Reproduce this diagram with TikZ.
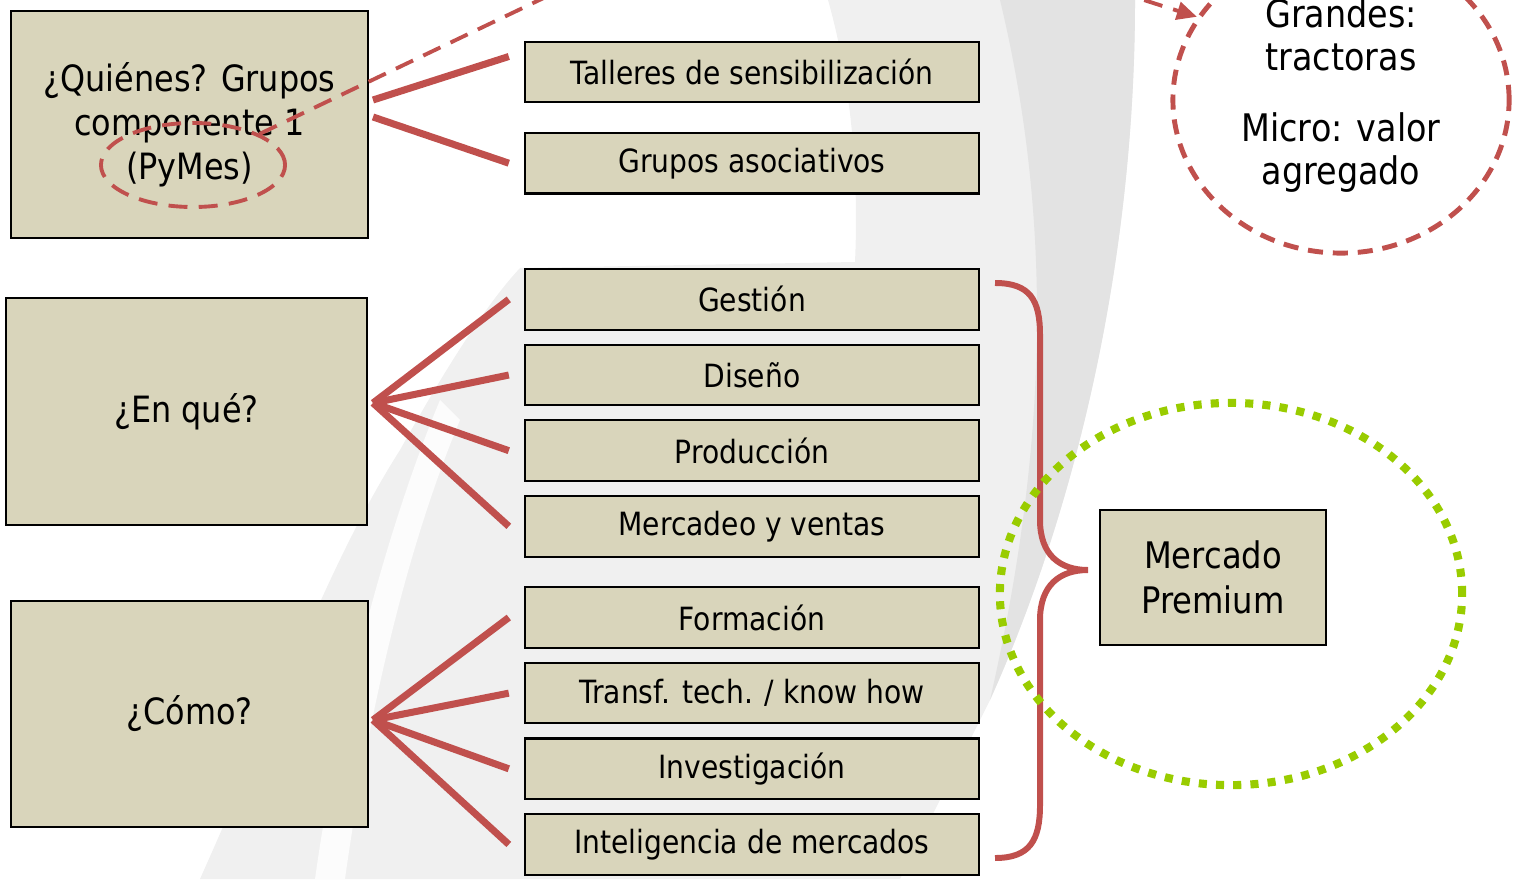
\documentclass[tikz,border=0pt]{standalone}
\usepackage{fontspec}
\setmainfont{DejaVu Sans}[FakeStretch=0.88]
\usetikzlibrary{shapes.geometric}
\usetikzlibrary{arrows.meta}
\definecolor{boxtan}{RGB}{217,213,187}
\definecolor{linkred}{RGB}{192,80,77}
\definecolor{dotgreen}{RGB}{153,204,0}
\tikzstyle{item} = [draw=black, line width=0.6pt, fill=boxtan, minimum width=4.54cm, minimum height=0.605cm, inner sep=0pt, text centered, font=\fontsize{9.1}{11}\selectfont]
\tikzstyle{question} = [draw=black, line width=0.6pt, fill=boxtan, minimum width=3.57cm, minimum height=2.27cm, inner sep=0pt, align=center, font=\fontsize{10.3}{12.5}\selectfont]
\tikzstyle{link} = [draw=linkred, line width=2pt]
\tikzstyle{redring} = [ellipse, draw=linkred, inner sep=0pt]
\tikzstyle{greenring} = [ellipse, draw=dotgreen, line width=2.3pt, dash pattern=on 2.3pt off 2.6pt, inner sep=0pt]

\begin{document}
\begin{tikzpicture}[x=0.01cm, y=-0.01cm]
        \path[use as bounding box, clip] (0,0) rectangle (1519,879);

        \fill[black!6] (828,0) -- (1135,0) .. controls (1135,250) and (1080,500) .. (990,700)
            .. controls (950,780) and (920,840) .. (900,879) -- (200,879) .. controls (280,700) and (330,560) .. (400,450)
            .. controls (450,360) and (490,300) .. (520,268) -- (855,262) .. controls (860,150) and (845,60) .. (828,0) -- cycle;
        \fill[black!11] (1000,0) -- (1135,0) .. controls (1135,250) and (1080,500) .. (990,700)
            .. controls (1040,480) and (1060,250) .. (1000,0) -- cycle;
        \fill[white, opacity=0.8] (440,400) .. controls (390,520) and (340,700) .. (315,879) -- (345,879)
            .. controls (370,700) and (410,540) .. (460,420) -- cycle;

        \node[question] (quien) at (189.5,124.5) {¿Quiénes? Grupos\\componente 1\\(PyMes)};
        \node[question, minimum width=3.61cm] (enque) at (186.5,411.5) {¿En qué?};
        \node[question, minimum height=2.26cm] (como) at (189.5,714) {¿Cómo?};

        \matrix (col) [row sep=0.13cm, inner sep=0pt, anchor=north] at (752,40) {
            \node[item] (talleres) {Talleres de sensibilización}; \\[0.155cm]
            \node[item] (grupos) {Grupos asociativos}; \\[0.605cm]
            \node[item] (gest) {Gestión}; \\
            \node[item] (dise) {Diseño}; \\
            \node[item] (prod) {Producción}; \\
            \node[item] (merc) {Mercadeo y ventas}; \\[0.155cm]
            \node[item] (form) {Formación}; \\
            \node[item] (transf) {Transf. tech. / know how}; \\
            \node[item] (inv) {Investigación}; \\
            \node[item] (intel) {Inteligencia de mercados}; \\
        };

        \coordinate (quienA) at (373,100);
        \coordinate (quienB) at (373,117);
        \coordinate (enqfan) at (373,403);
        \coordinate (comofan) at (373,720);

        \draw[link] (quienA) -- ([xshift=-0.15cm, yshift=0.155cm]talleres.west);
        \draw[link] (quienB) -- ([xshift=-0.15cm]grupos.west);
        \foreach \n in {gest,dise,prod,merc}
            \draw[link] (enqfan) -- ([xshift=-0.15cm]\n.west);
        \foreach \n in {form,transf,inv,intel}
            \draw[link] (comofan) -- ([xshift=-0.15cm]\n.west);

        \node[redring, line width=1.1pt, dash pattern=on 5.4pt off 3.2pt, minimum width=1.84cm, minimum height=0.84cm] (pymes) at (193,165) {};
        \node[redring, line width=1.4pt, dash pattern=on 4.3pt off 2.8pt, minimum width=3.36cm, minimum height=3.06cm] (grandes) at (1341,100) {};
        \node[align=center, font=\fontsize{10.8}{12.2}\selectfont] (grandestxt) at (1341,95.5) {Grandes:\\tractoras\\[0.28cm]Micro: valor\\agregado};

        \coordinate (bendA) at (600,-29);
        \coordinate (ctlA) at (800,-124);
        \coordinate (ctlB) at (1000,-45);
        \draw[draw=linkred, line width=1.1pt, dash pattern=on 5.4pt off 3.2pt, -{Triangle[length=0.2cm, width=0.18cm]}]
            (pymes.25) -- (bendA) .. controls (ctlA) and (ctlB) .. (grandes.150);

        \draw[draw=linkred, line width=1.7pt] (995,283) .. controls (1030,283) and (1040,300) .. (1040,335) -- (1040,520)
            .. controls (1040,555) and (1060,570) .. (1088,570) .. controls (1060,570) and (1040,585) .. (1040,620)
            -- (1040,805) .. controls (1040,840) and (1030,858) .. (995,858);

        \node[greenring, minimum width=4.62cm, minimum height=3.82cm] (premring) at (1231,594) {};
        \node[question, minimum width=2.26cm, minimum height=1.35cm, font=\fontsize{10.4}{12.8}\selectfont] (premium) at (1213,577.5) {Mercado\\Premium};
\end{tikzpicture}
\end{document}
